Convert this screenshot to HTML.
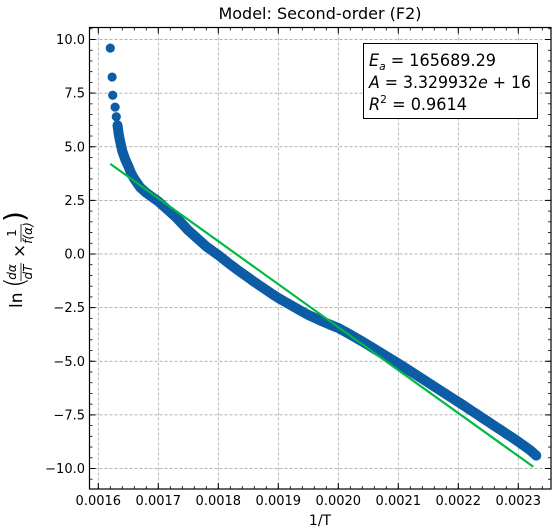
<!DOCTYPE html>
<html><head><meta charset="utf-8"><style>
html,body{margin:0;padding:0;background:#fff;}
svg{display:block;font-family:"DejaVu Sans","Liberation Sans",sans-serif;}
</style></head><body>
<svg id="chart" width="559" height="532" viewBox="0 0 559 532" xmlns="http://www.w3.org/2000/svg">
<rect width="559" height="532" fill="#fff"/>
<text x="320" y="19" font-size="16" text-anchor="middle" fill="#000">Model: Second-order (F2)</text>
<g id="grid"></g>
<g id="marks"></g>
<rect x="89.5" y="27.5" width="461.5" height="461.5" fill="none" stroke="#000" stroke-width="1.2"/>
<g id="ticks"></g>
<text x="320" y="525" font-size="14" text-anchor="middle">1/T</text>
<g transform="translate(22,258) rotate(-90)">
  <text x="-50" y="0" font-size="17">ln</text>
  <text x="-30" y="2" font-size="28" font-weight="100">(</text>
  <text x="-14" y="-6" font-size="12" font-style="italic" text-anchor="middle">dα</text>
  <line x1="-23" y1="-1" x2="-5" y2="-1" stroke="#000" stroke-width="0.8"/>
  <text x="-14" y="10" font-size="12" font-style="italic" text-anchor="middle">dT</text>
  <text x="0" y="3" font-size="17">×</text>
  <text x="25" y="-6" font-size="12" text-anchor="middle">1</text>
  <line x1="16" y1="-1" x2="34" y2="-1" stroke="#000" stroke-width="0.8"/>
  <text x="25" y="10" font-size="12" font-style="italic" text-anchor="middle">f(α)</text>
  <text x="36" y="2" font-size="28">)</text>
</g>
<g>
  <rect x="363.5" y="43.5" width="174" height="75" fill="#fff" stroke="#000" stroke-width="1"/>
  <text x="369" y="66" font-size="16.5" textLength="127" lengthAdjust="spacingAndGlyphs"><tspan font-style="italic">E</tspan><tspan font-size="11" font-style="italic" dy="4">a</tspan><tspan dy="-4"> = 165689.29</tspan></text>
  <text x="369" y="88" font-size="16.5" textLength="162" lengthAdjust="spacingAndGlyphs"><tspan font-style="italic">A</tspan> = 3.329932<tspan font-style="italic">e</tspan> + 16</text>
  <text x="369" y="110" font-size="16.5" textLength="98" lengthAdjust="spacingAndGlyphs"><tspan font-style="italic">R</tspan><tspan font-size="11" dy="-7">2</tspan><tspan dy="7"> = 0.9614</tspan></text>
</g>
</svg>
<script>
const xValues = [0.00162,0.001623,0.001624,0.001628,0.00163,0.001632,0.001634,0.001636,0.001638,0.00164,0.001645,0.00165,0.001655,0.00166,0.001665,0.00167,0.00168,0.00169,0.0017,0.00171,0.00172,0.00173,0.00174,0.00175,0.00176,0.00177,0.00178,0.00179,0.0018,0.00181,0.00182,0.00183,0.00184,0.00185,0.00186,0.00187,0.00188,0.00189,0.0019,0.00191,0.00192,0.00193,0.00194,0.00195,0.00196,0.00197,0.00198,0.00199,0.002,0.00201,0.00202,0.00203,0.00204,0.00205,0.00206,0.00207,0.00208,0.00209,0.0021,0.00211,0.00212,0.00213,0.00214,0.00215,0.00216,0.00217,0.00218,0.00219,0.0022,0.00221,0.00222,0.00223,0.00224,0.00225,0.00226,0.00227,0.00228,0.00229,0.0023,0.00231,0.00232,0.00233];
const yValues = [9.6,8.25,7.4,6.85,6.4,6.0,5.6,5.3,5.05,4.8,4.4,4.1,3.75,3.5,3.3,3.1,2.85,2.65,2.45,2.2,1.95,1.7,1.4,1.1,0.85,0.6,0.35,0.15,-0.05,-0.27,-0.49,-0.7,-0.9,-1.1,-1.3,-1.49,-1.68,-1.87,-2.05,-2.21,-2.37,-2.53,-2.69,-2.84,-2.97,-3.1,-3.22,-3.34,-3.45,-3.6,-3.76,-3.92,-4.08,-4.25,-4.42,-4.59,-4.76,-4.93,-5.1,-5.28,-5.46,-5.64,-5.82,-6.0,-6.18,-6.36,-6.54,-6.72,-6.9,-7.08,-7.27,-7.45,-7.64,-7.82,-8.01,-8.19,-8.38,-8.56,-8.75,-8.95,-9.15,-9.4];
const fitX = [0.00162,0.002325];
const fitY = [4.2,-9.92];
const xTicks = [0.0016,0.0017,0.0018,0.0019,0.002,0.0021,0.0022,0.0023];
const xTickLabels = ["0.0016","0.0017","0.0018","0.0019","0.0020","0.0021","0.0022","0.0023"];
const yTicks = [-10,-7.5,-5,-2.5,0,2.5,5,7.5,10];
const yTickLabels = ["−10.0","−7.5","−5.0","−2.5","0.0","2.5","5.0","7.5","10.0"];

const NS="http://www.w3.org/2000/svg";
const L=89.5,R=551,T=27.5,B=489;
function sx(v){return 98.3+(v-0.0016)*600000;}
function sy(v){return 254-v*21.45;}
function mk(tag,attrs,parent){const e=document.createElementNS(NS,tag);for(const k in attrs)e.setAttribute(k,attrs[k]);parent.appendChild(e);return e;}
const grid=document.getElementById('grid'),marks=document.getElementById('marks'),ticks=document.getElementById('ticks');

xTicks.forEach((v,i)=>{
  const x=sx(v);
  const g=mk('line',{x1:x,x2:x,y1:T,y2:B,stroke:'#999','stroke-width':0.7,'stroke-dasharray':'3,2'},grid);
  
  
  mk('line',{x1:x,x2:x,y1:B,y2:B-6,stroke:'#000','stroke-width':1},ticks);
  mk('line',{x1:x,x2:x,y1:T,y2:T+6,stroke:'#000','stroke-width':1},ticks);
  const t=mk('text',{x:x,y:505,'font-size':13,'text-anchor':'middle'},ticks);
  t.textContent=xTickLabels[i];
  
  
});
for(let v=0.00158;v<=0.002365;v+=0.00002){
  const x=sx(v); if(x<L||x>R)continue;
  mk('line',{x1:x,x2:x,y1:B,y2:B-3,stroke:'#000','stroke-width':0.8},ticks);
  mk('line',{x1:x,x2:x,y1:T,y2:T+3,stroke:'#000','stroke-width':0.8},ticks);
}
yTicks.forEach((v,i)=>{
  const y=sy(v);
  const g=mk('line',{x1:L,x2:R,y1:y,y2:y,stroke:'#999','stroke-width':0.7,'stroke-dasharray':'3,2'},grid);
  
  
  mk('line',{x1:L,x2:L+6,y1:y,y2:y,stroke:'#000','stroke-width':1},ticks);
  mk('line',{x1:R,x2:R-6,y1:y,y2:y,stroke:'#000','stroke-width':1},ticks);
  const t=mk('text',{x:85,y:y+4.5,'font-size':13,'text-anchor':'end'},ticks);
  t.textContent=yTickLabels[i];
  
  
});
for(let v=-11;v<=11;v+=0.5){
  const y=sy(v); if(y<T||y>B)continue;
  mk('line',{x1:L,x2:L+3,y1:y,y2:y,stroke:'#000','stroke-width':0.8},ticks);
  mk('line',{x1:R,x2:R-3,y1:y,y2:y,stroke:'#000','stroke-width':0.8},ticks);
}
// dense part of the series drawn as a continuous band (starting where points overlap)
const denseStart=5;
const pts=xValues.slice(denseStart).map((x,i)=>sx(x)+','+sy(yValues[i+denseStart])).join(' ');
const band=mk('polyline',{points:pts,fill:'none',stroke:'#0c5da5','stroke-width':10,'stroke-linecap':'round','stroke-linejoin':'round'},marks);


xValues.forEach((x,i)=>{
  const c=mk('circle',{cx:sx(x),cy:sy(yValues[i]),r:4.6,fill:'#0c5da5'},marks);
  
  
});
const fl=mk('line',{x1:sx(fitX[0]),y1:sy(fitY[0]),x2:sx(fitX[1]),y2:sy(fitY[1]),stroke:'#00b945','stroke-width':2.2},marks);


</script>
</body></html>
